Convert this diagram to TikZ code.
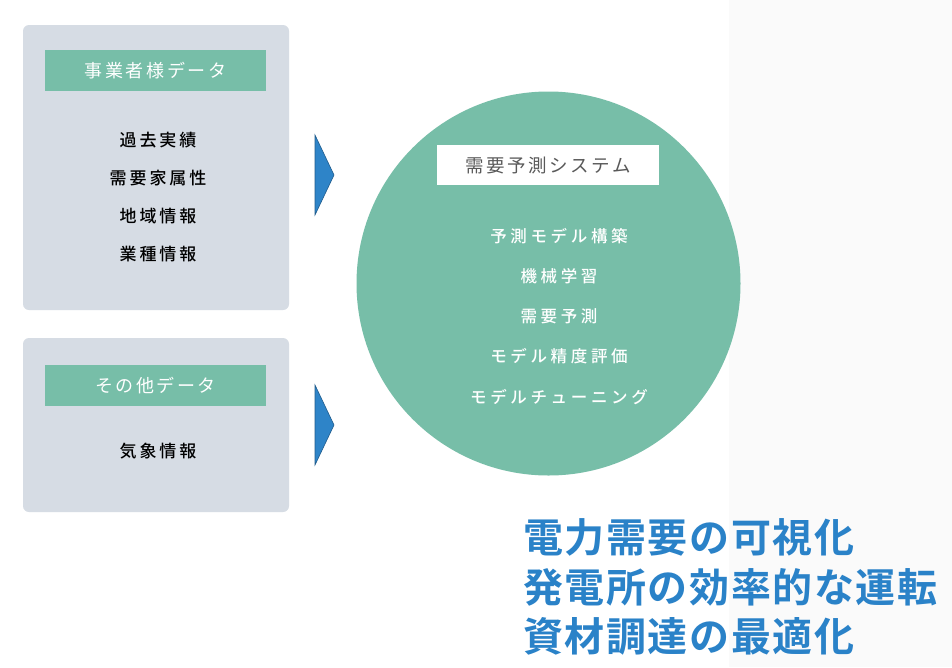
\documentclass[tikz,border=0pt]{standalone}
\usepackage{fontspec}
\newfontfamily\cjksp[LetterSpace=14]{Noto Sans CJK JP}
\newfontfamily\cjkitem[LetterSpace=17]{Noto Sans CJK JP Medium}
\newfontfamily\cjkcirc[LetterSpace=22]{Noto Sans CJK JP Medium}
\newfontfamily\cjkb[LetterSpace=4]{Noto Sans CJK JP Bold}
\definecolor{panel}{HTML}{D6DCE4}
\definecolor{teal}{HTML}{77BEA8}
\definecolor{arrowblue}{HTML}{2E84C8}
\definecolor{titleblue}{HTML}{2A82C8}
\definecolor{graybg}{HTML}{FAFAFA}
\definecolor{darkgray}{HTML}{595959}
\tikzset{
  panelbox/.style={fill=panel, rounded corners=6pt, draw=none},
  headbox/.style={fill=teal, draw=none, minimum width=221pt, minimum height=41pt, inner sep=0pt,
    text=white, font=\cjksp\fontsize{18}{20}\selectfont},
  item/.style={text=black, font=\cjkitem\fontsize{17}{18}\selectfont, inner sep=0pt},
  citem/.style={text=white, font=\cjkcirc\fontsize{16.5}{18}\selectfont, inner sep=0pt},
  sysbox/.style={fill=white, draw=none, minimum width=222pt, minimum height=40pt, inner sep=0pt,
    text=darkgray, font=\cjksp\fontsize{18.5}{20}\selectfont},
  tri/.style={fill=arrowblue, draw=arrowblue!70!black, line width=0.6pt},
  outcome/.style={text=titleblue, font=\cjkb\fontsize{40}{49}\selectfont, inner sep=0pt, anchor=west}
}
\begin{document}
\begin{tikzpicture}[x=1pt,y=-1pt]
\useasboundingbox (0,0) rectangle (952,667);
\fill[white] (0,0) rectangle (729,667);
\fill[graybg] (729,0) rectangle (952,667);
% panels
\path[panelbox] (23,25) rectangle (289,310);
\path[panelbox] (23,338) rectangle (289,512);
\node[headbox] (h1) at (155.5,70.5) {事業者様データ};
\node[headbox] (h2) at (155.5,385.5) {その他データ};
\node[item] (i1) at (158,140) {過去実績};
\node[item] (i2) at (158,178) {需要家属性};
\node[item] (i3) at (158,216) {地域情報};
\node[item] (i4) at (158,254) {業種情報};
\node[item] (i5) at (158,451) {気象情報};
% arrows
\draw[tri] (315,135) -- (334,175) -- (315,215) -- cycle;
\draw[tri] (315,385) -- (334,425) -- (315,465) -- cycle;
% circle
\node[circle, fill=teal, minimum size=384pt, inner sep=0pt] (sys) at (548.5,283.5) {};
\node[sysbox] (st) at (548,165) {需要予測システム};
\node[citem] (c1) at (559,236) {予測モデル構築};
\node[citem] (c2) at (559,276) {機械学習};
\node[citem] (c3) at (559,316) {需要予測};
\node[citem] (c4) at (559,356) {モデル精度評価};
\node[citem] (c5) at (559,397) {モデルチューニング};
% outcomes
\node[outcome] (o1) at (523,537) {電力需要の可視化};
\node[outcome] (o2) at (523,587) {発電所の効率的な運転};
\node[outcome] (o3) at (523,636) {資材調達の最適化};
\end{tikzpicture}
\end{document}
